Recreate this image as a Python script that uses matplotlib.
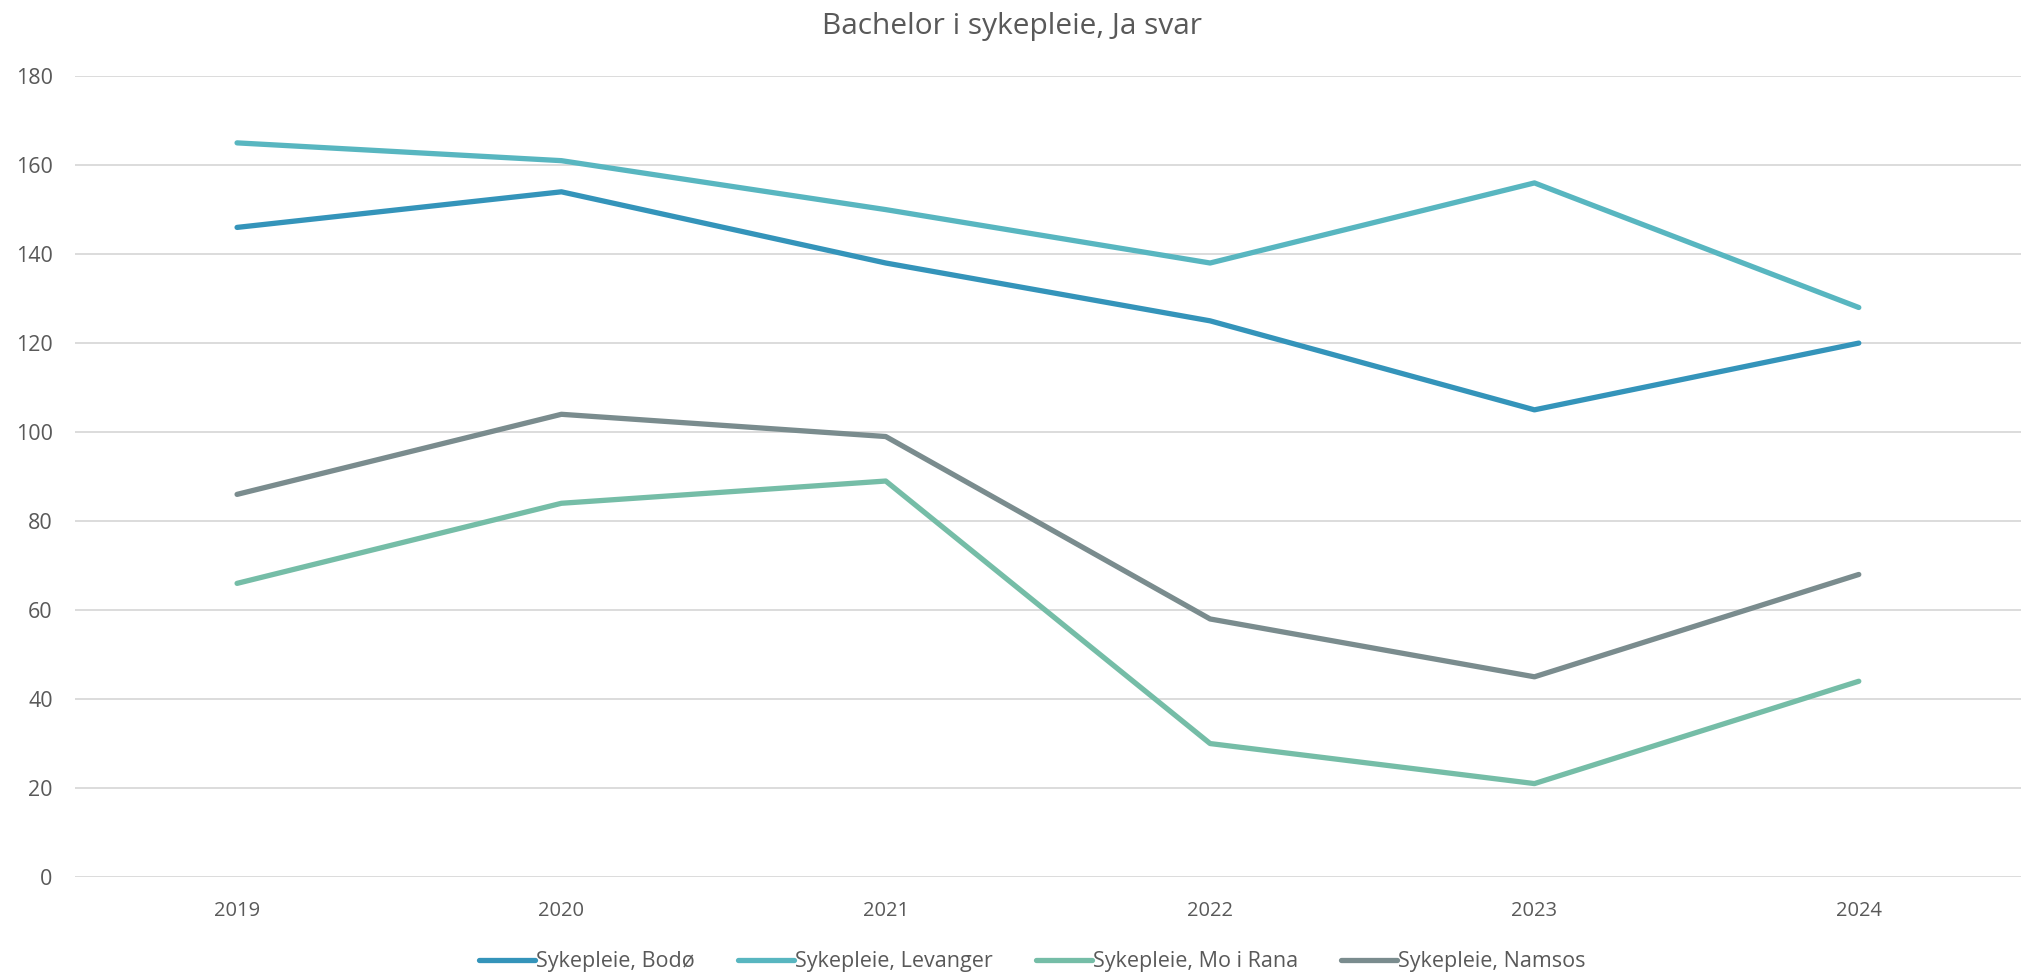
import matplotlib.pyplot as plt

# Data
years = ["2019", "2020", "2021", "2022", "2023", "2024"]
bodo = [146, 154, 138, 125, 105, 120]
levanger = [165, 161, 150, 138, 156, 128]
mo_i_rana = [66, 84, 89, 30, 21, 44]
namsos = [86, 104, 99, 58, 45, 68]

series_names = ["Sykepleie, Bodø", "Sykepleie, Levanger",
                "Sykepleie, Mo i Rana", "Sykepleie, Namsos"]
colors = ["#3494BA", "#58B6C0", "#75BDA7", "#7A8C8E"]

plt.rcParams['font.family'] = ['Open Sans', 'DejaVu Sans']
text_color = "#595959"

fig = plt.figure(figsize=(20.24, 9.76), dpi=100)
ax = fig.add_axes([0.037, 0.1014, 0.9615, 0.8206])

x = range(len(years))
for vals, name, c in zip([bodo, levanger, mo_i_rana, namsos], series_names, colors):
    ax.plot(x, vals, color=c, linewidth=3.8, label=name, solid_capstyle='round')

ax.set_xlim(-0.5, len(years) - 0.5)
ax.set_ylim(0, 180)
ax.set_yticks(range(0, 181, 20))
ax.set_xticks(list(x))
ax.set_xticklabels(years)
ax.grid(axis='y', color="#D9D9D9", linewidth=1.3)
ax.set_axisbelow(True)
for s in ax.spines.values():
    s.set_visible(False)
ax.tick_params(axis='y', length=0, labelsize=15.5, colors=text_color, pad=16)
ax.tick_params(axis='x', length=0, labelsize=14.5, colors=text_color, pad=17)

fig.suptitle("Bachelor i sykepleie, Ja svar", fontsize=21.5, color=text_color, y=0.988)

fig.legend(loc='lower center', ncol=4, frameon=False, fontsize=15.5,
           labelcolor=text_color, handlelength=2.6, handletextpad=0.05,
           columnspacing=2.0, bbox_to_anchor=(0.51, -0.016))

fig.savefig("out.png", dpi=100)
